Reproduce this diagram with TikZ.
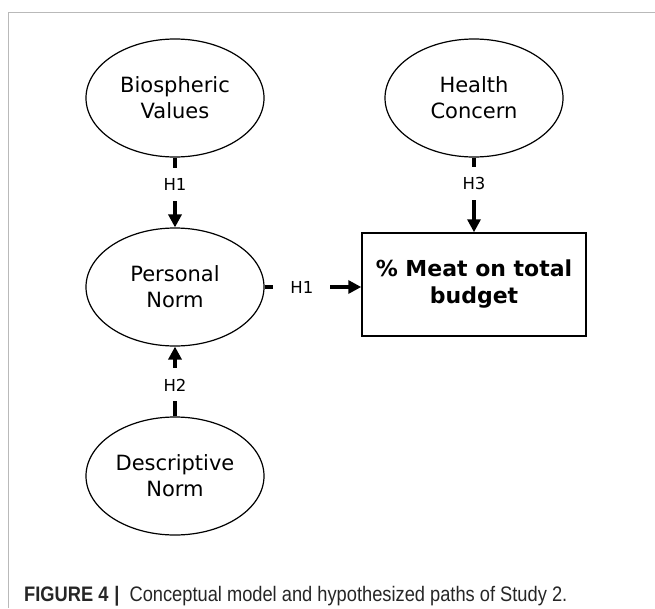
\documentclass[tikz,border=0pt]{standalone}
\usepackage{fontspec}
\setmainfont{DejaVu Sans}
\newfontfamily\capfont[FakeStretch=0.87]{Liberation Sans}
\usepackage{tikz}
\usetikzlibrary{arrows.meta,shapes.geometric,calc}

\begin{document}
\begin{tikzpicture}[x=1pt, y=-1pt,
  construct/.style={ellipse, draw, line width=1.2pt, minimum width=178pt,
                    minimum height=118pt, align=center,
                    font=\fontsize{21}{26}\selectfont},
  outcome/.style={rectangle, draw, line width=1.5pt, minimum width=224pt,
                  minimum height=103pt, align=center,
                  font=\fontsize{22}{27}\selectfont\bfseries},
  hyp/.style={line width=4pt, -{Triangle[length=13pt, width=13pt]}},
  hlab/.style={fill=white, inner sep=0pt, minimum width=57pt,
               minimum height=33pt, font=\fontsize{16.5}{19}\selectfont}
]
  \useasboundingbox (0,0) rectangle (655,608);

  % page frame (top and left only)
  \draw[gray!55, line width=1pt] (8,608) -- (8,12) -- (655,12);

  % constructs
  \node[construct] (bio) at (175,98) {Biospheric\\Values};
  \node[construct] (health) at (474,98) {Health\\Concern};
  \node[construct] (pnorm) at (175,287) {Personal\\Norm};
  \node[construct] (dnorm) at (175,476) {Descriptive\\Norm};

  % outcome
  \node[outcome] (meat) at (474,284.5) {\% Meat on total\\budget};

  % hypothesized paths
  \draw[hyp] (bio.south) -- node[hlab, pos=0.38] {H1} (pnorm.north);
  \draw[hyp] (health.south) -- node[hlab, pos=0.35] {H3} (meat.north);
  \draw[hyp] (dnorm.north) -- node[hlab, pos=0.45] {H2} (pnorm.south);
  \draw[hyp] (pnorm.east) -- node[hlab, pos=0.385] {H1} (pnorm.east -| meat.west);

  % caption
  \node[anchor=base west, inner sep=0pt, text=black!85,
        font=\capfont\fontsize{21}{25}\selectfont] (caption) at (24,601)
    {\textbf{FIGURE 4}\hspace{6pt}\textbf{|}\hspace{10pt}Conceptual model and hypothesized paths of Study 2.};
\end{tikzpicture}
\end{document}
